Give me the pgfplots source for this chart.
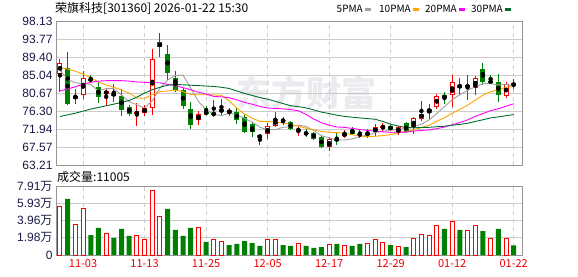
\documentclass[border=0pt]{standalone}
\usepackage{fontspec}
\setmainfont{Liberation Sans}
\newfontfamily\cjk{Noto Sans CJK SC}
\usepackage{pgfplots}
\usepackage{pgfplotstable}
\pgfplotsset{compat=1.18}
\definecolor{upred}{RGB}{255,0,0}
\definecolor{dngreen}{RGB}{0,128,0}
\definecolor{ma5c}{RGB}{160,160,160}
\definecolor{ma10c}{RGB}{255,165,0}
\definecolor{ma20c}{RGB}{255,0,255}
\definecolor{ma30c}{RGB}{0,110,50}
\definecolor{gridc}{RGB}{204,204,204}
\definecolor{framec}{RGB}{150,150,150}
\definecolor{tickc}{RGB}{25,25,70}
\definecolor{datec}{RGB}{235,0,0}
\definecolor{wmc}{RGB}{235,235,239}

\pgfplotstableread{
i O H L C
0 85.43 88.96 81.02 88.00
2 79.33 81.58 78.04 80.05
3 80.21 86.15 79.17 84.39
6 80.53 81.98 77.56 81.10
10 75.63 78.20 72.74 76.04
11 75.96 77.72 75.15 77.00
12 77.16 91.45 75.39 88.96
18 74.03 76.36 72.90 75.72
20 75.55 78.93 74.91 75.72
27 70.66 73.39 69.53 72.58
28 72.74 76.04 72.34 74.35
31 71.54 72.58 70.34 71.86
35 67.52 69.93 66.56 69.45
37 70.34 71.78 69.85 70.74
40 70.58 71.94 69.85 70.98
41 71.14 73.07 70.34 72.34
42 72.18 73.39 71.54 72.58
44 71.14 72.58 70.50 72.34
46 72.10 74.99 70.74 74.75
47 74.51 78.77 73.95 75.72
48 75.96 78.12 74.35 76.92
49 77.40 80.37 76.92 80.05
51 80.29 85.19 77.32 83.26
54 81.82 84.87 80.13 84.39
58 79.97 83.34 79.49 82.86
}\candleup

\pgfplotstableread{
i O H L C
1 86.80 90.73 77.72 77.96
4 84.23 85.11 83.18 83.66
5 82.22 83.34 78.20 79.73
7 80.77 82.94 78.61 79.89
8 80.05 81.58 75.15 76.60
9 77.24 77.88 75.15 75.63
13 93.14 95.39 89.37 91.78
14 90.25 92.42 83.75 85.59
15 84.47 86.07 80.93 81.42
16 81.34 81.90 76.92 77.56
17 76.76 78.61 71.86 72.98
19 76.04 77.64 75.47 75.63
21 76.76 79.17 75.39 76.04
22 76.60 77.00 75.15 75.80
23 76.04 77.00 73.23 74.03
24 74.91 75.60 70.94 71.14
25 73.07 73.55 69.93 71.14
26 70.50 70.62 68.09 69.85
29 74.11 74.83 72.90 73.95
30 73.63 73.87 71.70 71.86
32 70.98 71.86 69.93 70.82
33 70.98 71.30 69.37 69.53
34 70.09 70.20 67.36 67.52
36 69.53 71.14 68.09 69.21
38 71.70 72.34 70.50 70.82
39 70.66 71.94 69.77 70.50
43 72.74 72.90 71.54 71.70
45 73.31 73.55 70.98 71.14
50 80.13 80.93 78.04 79.49
52 82.70 84.47 80.29 81.90
53 82.70 85.19 78.93 82.06
55 86.64 87.92 82.70 83.26
56 83.58 85.19 83.02 83.34
57 83.26 85.43 78.45 80.21
59 83.02 83.99 81.58 82.38
}\candledn

\pgfplotstableread{
i ma5 ma10 ma20 ma30
0 86.20 86.90 81.20 75.00
1 84.00 86.50 81.70 75.40
2 83.20 86.00 82.20 75.80
3 83.00 85.30 82.90 76.30
4 82.81 84.40 83.30 76.80
5 81.16 83.40 83.60 77.20
6 81.79 82.70 83.70 77.60
7 81.75 82.10 83.70 78.00
8 80.20 81.40 83.70 78.40
9 78.59 80.70 83.60 78.90
10 77.85 79.51 83.40 79.70
11 77.03 79.41 83.30 80.70
12 78.85 80.30 83.20 81.50
13 81.88 81.04 83.20 82.10
14 83.87 81.23 82.80 82.60
15 84.95 81.40 82.50 82.80
16 85.06 81.05 82.00 82.70
17 81.87 80.36 81.50 82.60
18 78.65 80.27 80.90 82.50
19 76.66 80.27 80.48 82.40
20 75.52 80.24 79.87 82.30
21 75.22 80.14 79.77 82.10
22 75.78 78.82 79.56 81.80
23 75.44 77.05 79.04 81.20
24 74.55 75.60 78.42 80.60
25 73.63 74.58 77.99 80.10
26 72.39 73.81 77.43 79.60
27 71.75 73.77 77.06 79.20
28 71.81 73.63 76.95 78.70
29 72.37 73.46 76.86 78.14
30 72.52 73.07 76.66 77.61
31 72.92 72.66 76.40 77.40
32 72.57 72.16 75.49 77.09
33 71.60 71.71 74.38 76.60
34 70.32 71.35 73.48 76.06
35 69.84 71.18 72.88 75.72
36 69.31 71.11 72.46 75.32
37 69.29 70.93 72.35 75.02
38 69.55 70.58 72.10 74.82
39 70.14 70.23 71.85 74.65
40 70.45 70.14 71.61 74.48
41 71.08 70.19 71.42 74.33
42 71.44 70.37 71.26 73.78
43 71.62 70.58 71.15 73.11
44 71.99 71.07 71.21 72.67
45 72.02 71.24 71.21 72.33
46 72.50 71.79 71.45 72.24
47 73.13 72.29 71.61 72.33
48 74.17 72.90 71.74 72.37
49 75.72 73.85 72.04 72.51
50 77.39 74.70 72.42 72.64
51 79.09 75.80 72.99 72.88
52 80.32 76.73 73.55 73.08
53 81.35 77.76 74.17 73.35
54 82.22 78.97 75.02 73.79
55 82.97 80.18 75.71 74.20
56 82.99 81.04 76.42 74.65
57 82.65 81.49 76.89 74.90
58 82.81 82.08 77.49 75.19
59 82.41 82.31 78.09 75.47
}\ma

\pgfplotstableread{
i v
0 5.64
2 3.46
3 5.41
6 2.50
10 2.27
11 1.73
12 7.37
13 4.45
18 3.11
20 1.73
21 1.50
27 1.80
28 1.80
31 1.34
35 1.23
37 1.11
40 1.34
41 1.73
42 1.46
44 1.00
46 1.92
47 2.38
48 2.27
49 3.42
51 3.88
53 2.84
54 3.42
56 1.92
58 1.92
}\volup

\pgfplotstableread{
i v
1 6.45
4 2.30
5 3.11
7 1.96
8 3.00
9 2.19
14 5.30
15 2.88
16 2.19
17 3.11
19 1.50
22 1.15
23 1.27
24 1.61
25 1.38
26 1.04
29 1.15
30 1.04
32 1.04
33 0.81
34 0.92
36 1.27
38 1.04
39 1.27
43 1.15
45 0.92
50 3.00
52 2.88
55 2.76
57 3.00
59 1.10
}\voldn

\pgfplotsset{
  panel/.style={
    scale only axis, width=466.3pt,
    xmin=-0.52, xmax=60.12,
    axis line style={framec, line width=1pt},
    major tick length=0pt,
    xtick={3,11,19,27,35,43,51,59},
    xmajorgrids, ymajorgrids,
    x grid style={gridc, dash pattern=on 4pt off 4pt, line width=0.9pt},
    y grid style={gridc, line width=0.9pt},
    yticklabel style={font=\fontsize{12}{12}\selectfont, text=tickc},
  },
}

\begin{document}
\begin{tikzpicture}
\useasboundingbox (0,0) rectangle (578pt,-276pt);
\node[anchor=west, text=wmc, font=\cjk\bfseries\fontsize{35}{35}\selectfont, inner sep=0pt] at (236pt,-92.5pt) {东方财富};
\node[anchor=west, inner sep=0pt, font=\cjk\fontsize{12}{12}\selectfont] at (55pt,-8.3pt) {荣旗科技[301360] 2026-01-22 15:30};
\node[anchor=west, inner sep=0pt, font=\cjk\fontsize{12}{12}\selectfont] at (57pt,-177pt) {成交量:11005};
% legend
\begin{scope}[every node/.style={anchor=east, inner sep=0pt, font=\cjk\fontsize{10}{10}\selectfont}]
\node at (363pt,-8.8pt) {5PMA};
\fill[ma5c] (365pt,-8pt) rectangle (371pt,-11pt);
\node at (411pt,-8.8pt) {10PMA};
\fill[ma10c] (413pt,-8pt) rectangle (419pt,-11pt);
\node at (457pt,-8.8pt) {20PMA};
\fill[ma20c] (459pt,-8pt) rectangle (465pt,-11pt);
\node at (503pt,-8.8pt) {30PMA};
\fill[ma30c] (505pt,-8pt) rectangle (511pt,-11pt);
\end{scope}

\begin{axis}[panel,
  at={(56pt,-21.3pt)}, anchor=north west, height=143.7pt,
  ymin=63.21, ymax=98.13,
  ytick={63.21,67.57,71.94,76.30,80.67,85.04,89.40,93.77,98.13},
  yticklabels={63.21,67.57,71.94,76.30,80.67,85.04,89.40,93.77,98.13},
  xticklabels={},
]
% wicks
\addplot[only marks, mark=none, forget plot,
  error bars/.cd, y dir=both, y explicit, error mark=none,
  error bar style={draw=upred, line width=1pt}]
  table[x=i, y expr={(\thisrow{H}+\thisrow{L})/2}, y error expr={(\thisrow{H}-\thisrow{L})/2}] {\candleup};
\addplot[only marks, mark=none, forget plot,
  error bars/.cd, y dir=both, y explicit, error mark=none,
  error bar style={draw=dngreen, line width=1pt}]
  table[x=i, y expr={(\thisrow{H}+\thisrow{L})/2}, y error expr={(\thisrow{H}-\thisrow{L})/2}] {\candledn};
% bodies
\addplot[only marks, mark=none, forget plot,
  error bars/.cd, y dir=both, y explicit, error mark=none,
  error bar style={draw=upred, line width=5pt}]
  table[x=i, y expr={(\thisrow{O}+\thisrow{C})/2}, y error expr={max(abs(\thisrow{C}-\thisrow{O})/2,0.12)}] {\candleup};
\addplot[only marks, mark=none, forget plot,
  error bars/.cd, y dir=both, y explicit, error mark=none,
  error bar style={draw=white, line width=3pt}]
  table[x=i, y expr={(\thisrow{O}+\thisrow{C})/2}, y error expr={max(abs(\thisrow{C}-\thisrow{O})/2-0.243,0)}] {\candleup};
\addplot[only marks, mark=none, forget plot,
  error bars/.cd, y dir=both, y explicit, error mark=none,
  error bar style={draw=dngreen, line width=5pt}]
  table[x=i, y expr={(\thisrow{O}+\thisrow{C})/2}, y error expr={max(abs(\thisrow{C}-\thisrow{O})/2,0.12)}] {\candledn};
% moving averages
\addplot[color=ma5c, line width=0.9pt, mark=none] table[x=i, y=ma5] {\ma};
\addplot[color=ma10c, line width=0.9pt, mark=none] table[x=i, y=ma10] {\ma};
\addplot[color=ma20c, line width=0.9pt, mark=none] table[x=i, y=ma20] {\ma};
\addplot[color=ma30c, line width=0.9pt, mark=none] table[x=i, y=ma30] {\ma};
\end{axis}

\begin{axis}[panel,
  at={(56pt,-186.3pt)}, anchor=north west, height=68.7pt,
  ymin=0, ymax=7.91,
  ytick={0,1.98,3.96,5.93,7.91},
  yticklabels={0,{1.98\cjk 万},{3.96\cjk 万},{5.93\cjk 万},{7.91\cjk 万}},
  xticklabels={11-03,11-13,11-25,12-05,12-17,12-29,01-12,01-22},
  xticklabel style={text=datec, font=\cjk\fontsize{11}{11}\selectfont, yshift=-1pt},
]
\addplot[ybar, bar width=4pt, bar shift=0pt, draw=upred, line width=1pt, fill=white] table[x=i, y=v] {\volup};
\addplot[ybar, bar width=5pt, bar shift=0pt, draw=none, fill=dngreen] table[x=i, y=v] {\voldn};
\end{axis}
\end{tikzpicture}
\end{document}
